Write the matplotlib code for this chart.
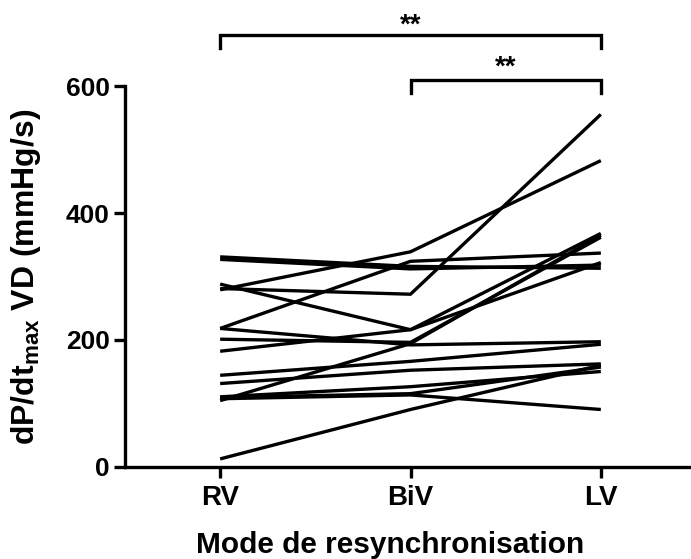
import numpy as np
import matplotlib
matplotlib.use("Agg")
import matplotlib.pyplot as plt

plt.rcParams['font.family'] = ['Liberation Sans', 'DejaVu Sans']
plt.rcParams['font.weight'] = 'bold'
plt.rcParams['mathtext.fontset'] = 'custom'
plt.rcParams['mathtext.rm'] = 'Liberation Sans:bold'
plt.rcParams['mathtext.bf'] = 'Liberation Sans:bold'

modes = ["RV", "BiV", "LV"]

# one row per patient: RV, BiV, LV (mmHg/s)
rv = [331, 327, 279, 281, 218, 288, 182, 104, 201, 218, 144, 131, 110, 107, 109, 12]
biv = [316, 312, 339, 272, 324, 216, 216, 194, 196, 192, 166, 152, 126, 113, 115, 90]
lv = [313, 318, 483, 556, 337, 368, 322, 365, 362, 197, 193, 162, 150, 90, 157, 160]

brackets = [(0, 2, "**", 682, 685), (1, 2, "**", 610, 618)]

fig = plt.figure(figsize=(6.91, 5.59), dpi=100)
ax = fig.add_axes([125 / 691, 92.5 / 559, 571 / 691, 380 / 559])

x = np.arange(len(modes))
for a, b, c in zip(rv, biv, lv):
    ax.plot(x, [a, b, c], color='black', lw=2.4, solid_capstyle='butt')

ax.set_xlim(-0.5, 2.5)
ax.set_ylim(0, 600)
ax.set_yticks([0, 200, 400, 600])
ax.set_xticks(x)
ax.set_xticklabels(modes)

for s in ['top', 'right']:
    ax.spines[s].set_visible(False)
for s in ['left', 'bottom']:
    ax.spines[s].set_linewidth(2.4)
ax.tick_params(axis='both', width=2.4, length=8)
ax.tick_params(axis='y', pad=3, labelsize=19)
ax.tick_params(axis='x', pad=5, labelsize=20)

ax.set_xlabel("Mode de resynchronisation", fontsize=21.5, fontweight='bold')
ax.xaxis.set_label_coords(0.464, -0.170)
ax.set_ylabel(r"dP/dt$_{\mathbf{max}}$ VD (mmHg/s)", fontsize=23, fontweight='bold')
ax.yaxis.set_label_coords(-0.1435, 0.5)

# significance brackets
for x0, x1, lab, yb, yt in brackets:
    ax.plot([x0, x0, x1, x1], [yb - 21, yb, yb, yb - 21], color='black', lw=2.4,
            clip_on=False, solid_joinstyle='miter')
    ax.text((x0 + x1) / 2, yt, lab, ha='center', va='baseline', fontsize=20,
            fontweight='bold', clip_on=False)

fig.savefig("out.png", dpi=100)
